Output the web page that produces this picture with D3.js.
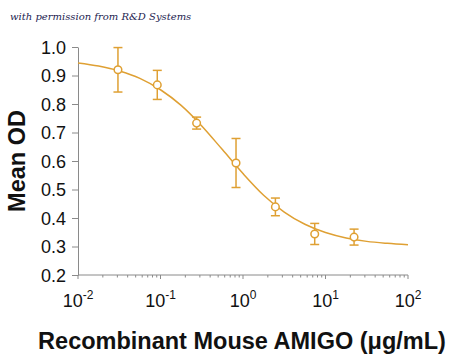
<!DOCTYPE html>
<html><head><meta charset="utf-8">
<script src="https://cdn.jsdelivr.net/npm/d3@7"></script>
<style>body{margin:0;background:#fff}svg{display:block}</style>
</head><body>
<script>
// Data
const concentrations = [0.0305, 0.0914, 0.274, 0.823, 2.47, 7.4, 22.2];
const meanOD = [0.920, 0.867, 0.733, 0.593, 0.439, 0.344, 0.333];
const errorOD = [0.078, 0.051, 0.021, 0.086, 0.031, 0.037, 0.028];
// fitted curve, sampled every quarter decade
const curveLogX = [-2, -1.75, -1.5, -1.25, -1, -0.75, -0.5, -0.25, 0, 0.25, 0.5, 0.75, 1, 1.25, 1.5, 1.75, 2];
const curveOD = [0.944, 0.933, 0.916, 0.890, 0.850, 0.795, 0.723, 0.640, 0.556, 0.480, 0.421, 0.378, 0.349, 0.330, 0.318, 0.311, 0.306];
const yTicks = [0.2, 0.3, 0.4, 0.5, 0.6, 0.7, 0.8, 0.9, 1.0];
const xTickExponents = [-2, -1, 0, 1, 2];

const W = 450, H = 357;
const color = "#DFA033";
const svg = d3.select("body").append("svg").attr("width", W).attr("height", H);

const x = d3.scaleLog().domain([0.01, 100]).range([78, 408]);
const y = d3.scaleLinear().domain([0.2, 1.0]).range([275, 47]);

// watermark
svg.append("text").attr("x", 10).attr("y", 20)
  .attr("font-family", "'DejaVu Serif', serif").attr("font-style", "italic")
  .attr("font-size", 10).attr("fill", "#1c1c50")
  .text("with permission from R&D Systems");

// Y axis
const yAxis = d3.axisLeft(y).tickValues(yTicks).tickFormat(d3.format(".1f")).tickSize(6).tickSizeOuter(0);
const gy = svg.append("g").attr("transform", "translate(78,0)").call(yAxis);
gy.select(".domain").attr("stroke", "#8a8a8a");
gy.selectAll(".tick line").attr("stroke", "#8a8a8a");
gy.selectAll(".tick text").attr("font-family", "'Liberation Sans', Arial, sans-serif")
  .attr("font-size", 18).attr("fill", "#111").attr("x", -12).attr("dy", "0.34em");

// X axis
const minorTicks = [];
for (let e = -2; e < 2; e++) for (let m = 2; m <= 9; m++) minorTicks.push(m * Math.pow(10, e));
const gx = svg.append("g").attr("transform", "translate(0,275)");
gx.append("line").attr("x1", x.range()[0]).attr("x2", x.range()[1]).attr("stroke", "#8a8a8a");
gx.selectAll(".minor").data(minorTicks).join("line").attr("class", "minor")
  .attr("x1", d => x(d)).attr("x2", d => x(d)).attr("y1", 0).attr("y2", 2.5).attr("stroke", "#8a8a8a");
gx.selectAll(".major").data(xTickExponents).join("line").attr("class", "major")
  .attr("x1", d => x(Math.pow(10, d))).attr("x2", d => x(Math.pow(10, d))).attr("y1", 0).attr("y2", 4).attr("stroke", "#8a8a8a");
const xl = gx.selectAll(".lab").data(xTickExponents).join("text").attr("class", "lab")
  .attr("x", d => x(Math.pow(10, d))).attr("y", 32).attr("text-anchor", "middle")
  .attr("font-family", "'Liberation Sans', Arial, sans-serif").attr("font-size", 18).attr("fill", "#111");
xl.append("tspan").text("10");
xl.append("tspan").attr("dy", -8).attr("font-size", 12).text(d => d);

// curve
const line = d3.line().x(d => x(Math.pow(10, d[0]))).y(d => y(d[1])).curve(d3.curveMonotoneX);
svg.append("path").datum(curveLogX.map((v, i) => [v, curveOD[i]]))
  .attr("d", line).attr("fill", "none").attr("stroke", color).attr("stroke-width", 1.5);

// error bars and points
const pts = concentrations.map((c, i) => ({ c, m: meanOD[i], e: errorOD[i] }));
const eb = svg.append("g").attr("stroke", color).attr("stroke-width", 1.5);
eb.selectAll(".v").data(pts).join("line")
  .attr("x1", d => x(d.c)).attr("x2", d => x(d.c)).attr("y1", d => y(d.m + d.e)).attr("y2", d => y(d.m - d.e));
eb.selectAll(".t").data(pts).join("line")
  .attr("x1", d => x(d.c) - 4.5).attr("x2", d => x(d.c) + 4.5).attr("y1", d => y(d.m + d.e)).attr("y2", d => y(d.m + d.e));
eb.selectAll(".b").data(pts).join("line")
  .attr("x1", d => x(d.c) - 4.5).attr("x2", d => x(d.c) + 4.5).attr("y1", d => y(d.m - d.e)).attr("y2", d => y(d.m - d.e));
svg.append("g").selectAll("circle").data(pts).join("circle")
  .attr("cx", d => x(d.c)).attr("cy", d => y(d.m)).attr("r", 3.8)
  .attr("fill", "#fff").attr("stroke", color).attr("stroke-width", 1.5);

// axis titles
svg.append("text").attr("transform", "translate(25,161) rotate(-90)").attr("text-anchor", "middle")
  .attr("font-family", "'Liberation Sans', Arial, sans-serif").attr("font-weight", "bold")
  .attr("font-size", 23.5).attr("fill", "#111").text("Mean OD");
svg.append("text").attr("x", 242).attr("y", 349).attr("text-anchor", "middle")
  .attr("font-family", "'Liberation Sans', Arial, sans-serif").attr("font-weight", "bold")
  .attr("font-size", 23.5).attr("fill", "#111").text("Recombinant Mouse AMIGO (μg/mL)");
</script>
</body></html>
